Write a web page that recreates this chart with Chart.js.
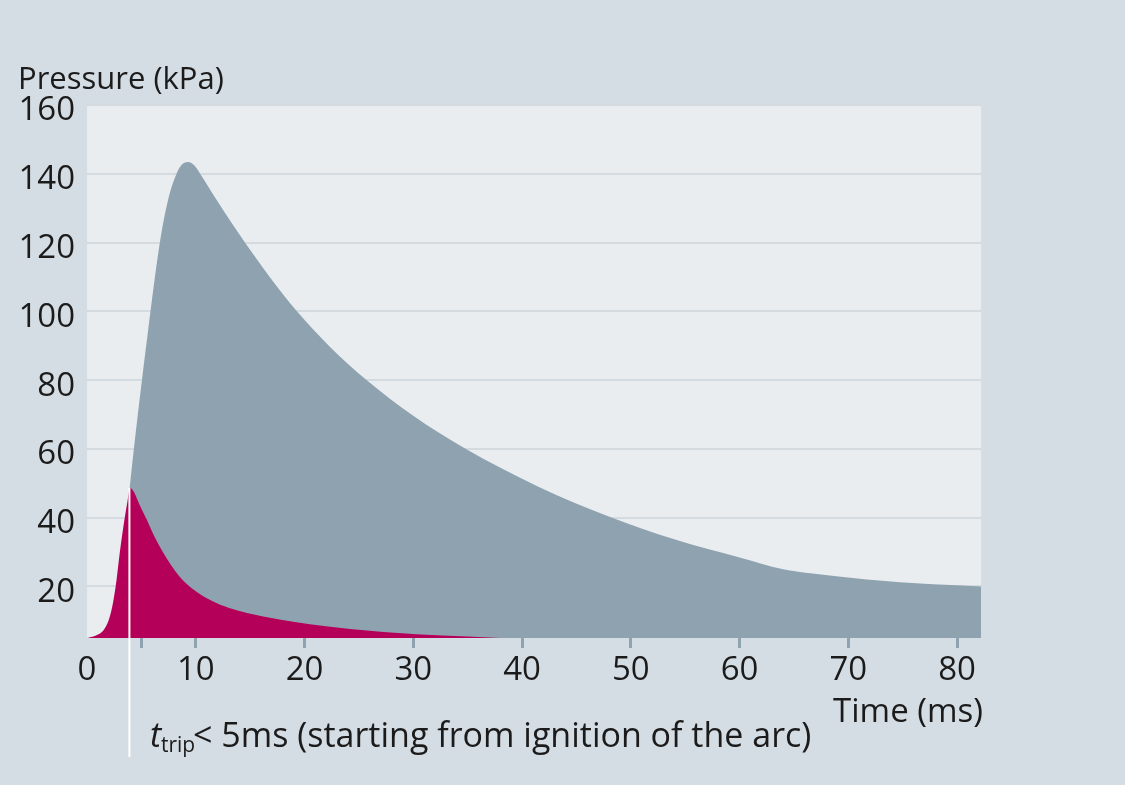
<!DOCTYPE html>
<html>
<head>
<meta charset="utf-8">
<script src="https://cdn.jsdelivr.net/npm/chart.js@4/dist/chart.umd.min.js"></script>
<style>
	html, body { margin: 0; padding: 0; background: #d5dde4; }
	#wrap { width: 1125px; height: 785px; }
</style>
</head>
<body>
<div id="wrap"><canvas id="pressure-plot" width="1125" height="785"></canvas></div>
<script>

/* values */

const grayTime = [ 0, 2.0, 3.0, 3.9, 4.6, 5.6, 6.7, 7.5, 8.1, 8.6, 9.3, 9.9, 10.4, 12.0, 14.3, 16.8, 19.3, 22.3, 25.7, 30.0, 34.8, 41.5, 48.1, 54.0, 60.0, 64.0, 66.5, 71.7, 77.8, 82.2 ];
const grayPressure = [ 5, 6, 20, 48, 68, 94, 120, 133, 139, 142.2, 143.4, 142.3, 140, 132, 121, 110, 100, 89.8, 80, 69.6, 60, 49, 40.2, 33.7, 28.4, 25, 23.8, 22, 20.6, 20 ];

const redTime = [ 0, 0.3, 1.0, 1.5, 2.0, 2.4, 2.7, 3.0, 3.35, 3.7, 3.95, 4.3, 4.8, 5.5, 6.2, 7.0, 8.5, 10.0, 11.6, 13.0, 14.7, 17.7, 20.5, 24.2, 30.3, 35.0, 38.0 ];
const redPressure = [ 5, 5.2, 6.0, 7.2, 10.2, 15.4, 21.5, 29.5, 37.5, 44.3, 48.7, 47.5, 44, 39.4, 34.5, 29.9, 22.9, 18.6, 15.6, 13.8, 12.3, 10.4, 9.0, 7.6, 6.1, 5.4, 5 ];

const xTicks = [ 0, 5, 10, 20, 30, 40, 50, 60, 70, 80 ];
const yTicks = [ 20, 40, 60, 80, 100, 120, 140, 160 ];

const tripTime = 3.9;
const tripPressure = 48.7;

const toPoints = ( xs, ys ) => xs.map( ( x, i ) => ( { x: x, y: ys[ i ] } ) );

const textColor = '#1b1b1b';
const fontName = '"Open Sans", "Noto Sans", sans-serif';


/* plot background, white trip line and the loose texts */

const decor = {
	id: 'decor',
	beforeDraw( chart ) {
		const { ctx, chartArea } = chart;
		ctx.save();
		ctx.fillStyle = '#e9edf0';
		ctx.fillRect( chartArea.left, chartArea.top, chartArea.right - chartArea.left, chartArea.bottom - chartArea.top );
		ctx.restore();
	},
	afterDraw( chart ) {
		const { ctx } = chart;
		const x = chart.scales.x.getPixelForValue( tripTime );
		const y = chart.scales.y.getPixelForValue( tripPressure );

		ctx.save();
		ctx.strokeStyle = '#ffffff';
		ctx.lineWidth = 2;
		ctx.beginPath();
		ctx.moveTo( x, y );
		ctx.lineTo( x, 757 );
		ctx.stroke();

		ctx.fillStyle = textColor;
		ctx.textBaseline = 'alphabetic';

		ctx.font = '31px ' + fontName;
		ctx.textAlign = 'left';
		ctx.fillText( 'Pressure (kPa)', 18, 89 );

		ctx.font = '33px ' + fontName;
		ctx.textAlign = 'right';
		ctx.fillText( 'Time (ms)', 983, 722 );

		ctx.textAlign = 'left';
		ctx.font = 'italic 34px ' + fontName;
		ctx.fillText( 't', 150, 747 );
		ctx.font = '21px ' + fontName;
		ctx.fillText( 'trip', 161, 752 );
		ctx.font = '34px ' + fontName;
		ctx.fillText( '< 5ms (starting from ignition of the arc)', 193, 747 );
		ctx.restore();
	}
};


const pressureCTX = document.getElementById('pressure-plot');

const pressureData = {
	datasets: [{
		label: 'Current limiting',
		data: toPoints( redTime, redPressure ),
		backgroundColor: '#b5005a',
		borderWidth: 0,
		pointRadius: 0,
		fill: 'origin',
		cubicInterpolationMode: 'monotone'
	},{
		label: 'Without',
		data: toPoints( grayTime, grayPressure ),
		backgroundColor: '#8ea3af',
		borderWidth: 0,
		pointRadius: 0,
		fill: 'origin',
		cubicInterpolationMode: 'monotone'
	}],
};

const pressureOptions = {
	responsive: false,
	animation: false,
	layout: {
		padding: { left: 0, top: 105, right: 144, bottom: 87 }
	},
	plugins: {
		legend: { display: false },
		tooltip: { enabled: false }
	},
	scales: {
		x: {
			type: 'linear',
			min: 0,
			max: 82.2,
			afterBuildTicks: ( scale ) => { scale.ticks = xTicks.map( v => ( { value: v } ) ); },
			afterFit: ( scale ) => { scale.height = 60; },
			border: { display: false },
			grid: {
				drawOnChartArea: false,
				tickLength: 10,
				tickWidth: 3,
				tickColor: ( c ) => c.tick && c.tick.value === 0 ? 'rgba(0,0,0,0)' : '#8fa3b0'
			},
			ticks: {
				color: textColor,
				font: { family: fontName, size: 33 },
				padding: 3,
				maxRotation: 0,
				autoSkip: false,
				callback: ( v ) => v === 5 ? '' : v
			}
		},
		y: {
			min: 5,
			max: 160,
			afterBuildTicks: ( scale ) => { scale.ticks = yTicks.map( v => ( { value: v } ) ); },
			afterFit: ( scale ) => { scale.width = 87; },
			border: { display: false },
			grid: {
				color: '#d3dbe1',
				lineWidth: 2,
				drawTicks: false
			},
			ticks: {
				color: textColor,
				font: { family: fontName, size: 33 },
				padding: 12,
				labelOffset: 6
			}
		}
	}
};

const pressureChart = new Chart( pressureCTX, {
	type: 'line',
	data: pressureData,
	options: pressureOptions,
	plugins: [ decor ]
});

</script>
</body>
</html>
